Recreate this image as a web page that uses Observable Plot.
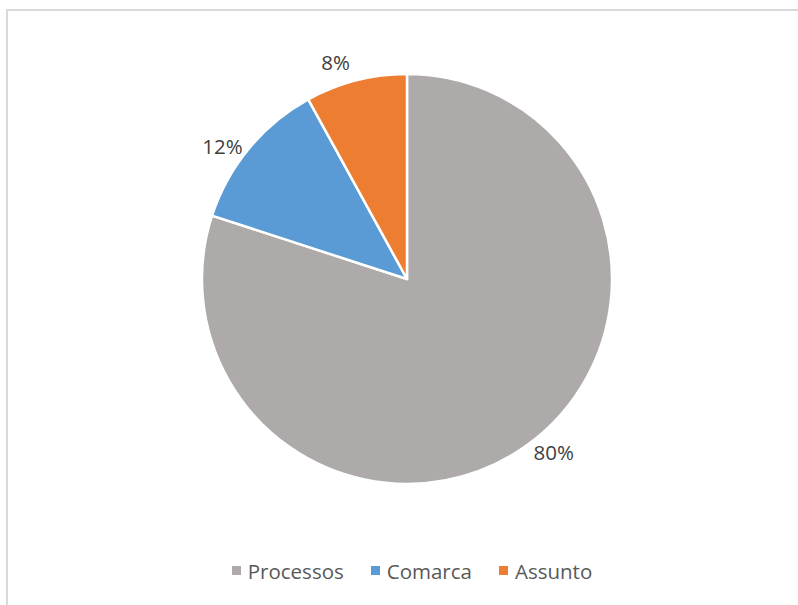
<!DOCTYPE html>
<html>
<head>
<meta charset="utf-8">
<script src="https://cdn.jsdelivr.net/npm/d3@7"></script>
<script src="https://cdn.jsdelivr.net/npm/@observablehq/plot@0.6"></script>
<style>
  html, body { margin: 0; padding: 0; background: #fff; }
  #frame { position: absolute; left: 6px; top: 9px; width: 800px; height: 610px;
           border-top: 2px solid #D9D9D9; border-left: 2px solid #D9D9D9; box-sizing: border-box; }
  #chart { position: absolute; left: 0; top: 0; }
  #legend { position: absolute; left: 0; width: 824px; top: 554px; display: flex; justify-content: center; }
  .leg-swatch { margin-right: 27px !important; }
  .leg-swatch:last-child { margin-right: 0 !important; }
  .leg-swatch > svg { margin-right: 7px !important; }
</style>
</head>
<body>
<div id="frame"></div>
<div id="chart"></div>
<div id="legend"></div>
<script>
const categories = ["Processos", "Comarca", "Assunto"];
const values = [80, 12, 8];
const labels = ["80%", "12%", "8%"];
const colors = ["#ADAAA9", "#5B9BD5", "#ED7D31"];

const W = 798, H = 545, R = 205, CX = 407, CY = 279;
const FONT = "'Open Sans', sans-serif";
const FS = 20.5;
const data = categories.map((c, i) => ({category: c, value: values[i], label: labels[i]}));
const arcs = d3.pie().sort(null).value(d => d.value)(data);
const labelShift = -4 * Math.PI / 180;
const mid = d => (d.startAngle + d.endAngle) / 2 + labelShift;
const labelR = 1.11;

const pieMark = (index, scales) => {
  const x = scales.x, y = scales.y, color = scales.color;
  const r = x(1) - x(0);
  const g = d3.create("svg:g").attr("transform", `translate(${x(0)},${y(0)})`);
  g.selectAll("path").data(arcs).join("path")
    .attr("d", d3.arc().innerRadius(0).outerRadius(r))
    .attr("fill", d => color(d.data.category))
    .attr("stroke", "white")
    .attr("stroke-width", 2.5)
    .attr("stroke-linejoin", "round");
  return g.node();
};

const plot = Plot.plot({
  width: W, height: H,
  margin: 0,
  x: {domain: [-CX / R, (W - CX) / R], range: [0, W], axis: null},
  y: {domain: [-(H - CY) / R, CY / R], range: [H, 0], axis: null},
  color: {domain: categories, range: colors},
  style: {fontFamily: FONT, background: "transparent"},
  marks: [
    Plot.dot(data, {x: () => 0, y: () => 0, fill: "category", r: 0}),
    pieMark,
    Plot.text(arcs, {
      x: d => Math.sin(mid(d)) * labelR,
      y: d => Math.cos(mid(d)) * labelR,
      text: d => d.data.label,
      fontSize: FS,
      fill: "#404040"
    })
  ]
});
document.getElementById("chart").appendChild(plot);

const leg = plot.legend("color", {
  className: "leg",
  swatchSize: 9,
  style: {fontFamily: FONT, fontSize: FS + "px", color: "#595959", margin: 0}
});
document.getElementById("legend").appendChild(leg);
</script>
</body>
</html>
